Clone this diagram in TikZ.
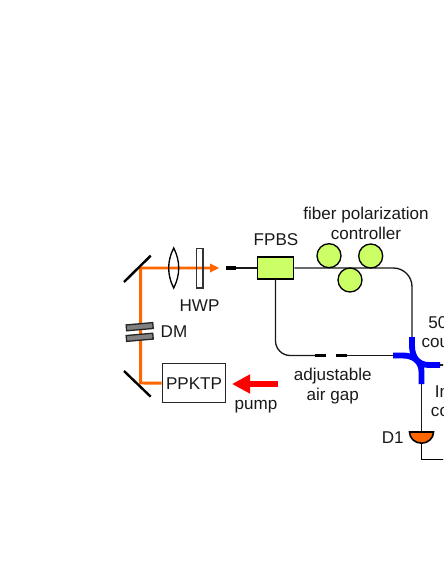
\documentclass[tikz,border=0pt]{standalone}
\usepackage{fontspec}
\setmainfont{Liberation Sans}
\usetikzlibrary{arrows.meta}
\definecolor{fiberlime}{HTML}{CCFF66}
\definecolor{beamorange}{HTML}{FF6600}

\begin{document}
\begin{tikzpicture}[
    x=0.75pt, y=-0.75pt,
    every node/.style={font=\fontsize{12.8}{15}\selectfont, inner sep=0pt, align=center, text=black!90},
    fiber/.style={line width=1pt, black!90},
    beam/.style={line width=2.2pt, beamorange},
    mirror/.style={line width=1.8pt, black},
    coupler/.style={line width=4.4pt, blue},
    connector/.style={line width=2.5pt, black},
    paddle/.style={circle, draw=black, line width=1pt, fill=fiberlime, minimum size=18pt},
    plate/.style={draw=black!85, line width=1pt, fill=gray, rotate=5, minimum width=20pt, minimum height=4.4pt},
]
\useasboundingbox (0, 0) rectangle (443, 573);
\clip (0, 0) rectangle (443, 573);

% === Free-space beam ===
\coordinate (mirrortop) at (140.7, 268);
\coordinate (mirrorbot) at (140.7, 383);
\node[draw=black!85, line width=1.1pt, minimum width=47.5pt, minimum height=29.2pt] (ppktp) at (194, 383.2) {PPKTP};
\draw[beam] (ppktp.west) -- (mirrorbot) -- (mirrortop) -- (212, 268);
\fill[beamorange] (219, 268) -- (210, 263.5) -- (210, 272.5) -- cycle;

% Mirrors
\draw[mirror] (124, 282) -- (150.7, 255.7);
\draw[mirror] (124, 371) -- (150.7, 396.7);

% Lens and half wave plate
\draw[line width=1pt, black] (173.7, 248) .. controls (167, 261) and (167, 275) .. (173.7, 288)
    .. controls (180.4, 275) and (180.4, 261) .. (173.7, 248) -- cycle;
\draw[line width=1pt, black!80] (196.3, 248.5) rectangle (203, 288);
\node (hwp) at (199.5, 306) {HWP};

% Dichroic mirror
\node[plate] (dmtop) at (139.7, 326.7) {};
\node[plate] (dmbot) at (139.7, 337.3) {};
\node (dm) at (174, 332) {DM};

% === Fiber part ===
\node[draw=black, line width=1.2pt, fill=fiberlime, minimum width=27pt, minimum height=16.5pt] (fpbs) at (275.5, 268) {};
\node (fpbslabel) at (276, 240) {FPBS};

\draw[connector] (226, 268) -- (236, 268);
\draw[fiber] (236, 268) -- (fpbs.west);
\draw[fiber, rounded corners=14pt] (fpbs.east) -- (412, 268) -- (412, 338);
\draw[fiber, rounded corners=11pt] (275.5, 279) -- (275.5, 355.5) -- (315, 355.5);
\draw[connector] (315, 355.5) -- (325.7, 355.5);
\draw[connector] (336, 355.5) -- (346.7, 355.5);
\draw[fiber] (346.7, 355.5) -- (394, 355.5);

% Polarization paddles
\node[paddle] (pad1) at (329, 255.7) {};
\node[paddle] (pad2) at (370.7, 256) {};
\node[paddle] (pad3) at (350, 280) {};
\node (fpclabel) at (366, 223) {fiber polarization\\controller};

% Coupler
\draw[coupler] (393, 355.5) -- (403, 355.5) .. controls (414, 355.5) and (421.5, 362) .. (421.5, 372) -- (421.5, 384);
\draw[coupler] (412, 337) -- (412, 346) .. controls (412, 357) and (418, 365) .. (429, 365) -- (440, 365);
\draw[fiber] (440, 365) -- (450, 365);
\node[anchor=west] (cpltop) at (428, 322.7) {50};
\node[anchor=west] (cplbot) at (421.3, 342.7) {cou};
\node[anchor=west] (intop) at (434.7, 391.7) {In};
\node[anchor=west] (inbot) at (430.7, 411.7) {co};

% Detector
\draw[fiber] (421.5, 384) -- (421.5, 432);
\draw[line width=1.2pt, black, fill=beamorange] (409.5, 432) -- (433.5, 432) arc (0:180:12 and 11.2) -- cycle;
\node (d1) at (392.7, 437.5) {D1};
\draw[line width=0.7pt, black] (421.5, 443) -- (421.5, 459) -- (450, 459);

% === Pump ===
\draw[-{Triangle[width=13.5pt, length=13.5pt]}, line width=5pt, red] (278, 384) -- (232, 384);
\node (pump) at (256, 406.5) {pump};
\node (gaplabel) at (332.7, 386) {adjustable\\air gap};

\end{tikzpicture}
\end{document}
